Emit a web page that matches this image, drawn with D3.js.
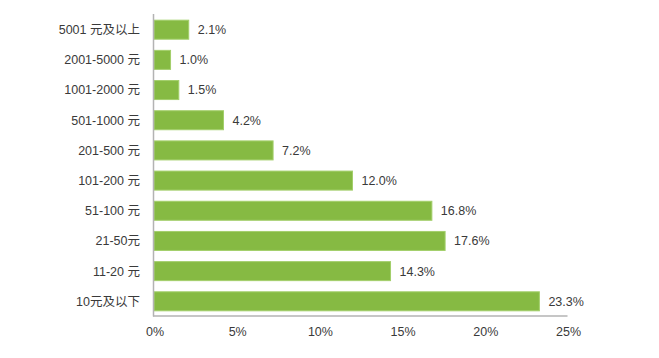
<!DOCTYPE html>
<html><head><meta charset="utf-8">
<script src="https://cdn.jsdelivr.net/npm/d3@7"></script>
<style>body{margin:0;background:#fff}</style>
</head><body>
<svg id="c" width="659" height="358"></svg>
<script>
const categories = ["5001 元及以上","2001-5000 元","1001-2000 元","501-1000 元","201-500 元","101-200 元","51-100 元","21-50元","11-20 元","10元及以下"];
const values = [2.1, 1.0, 1.5, 4.2, 7.2, 12.0, 16.8, 17.6, 14.3, 23.3];
const xTicks = [0, 5, 10, 15, 20, 25];

const svg = d3.select("#c");
const font = "'Liberation Sans', Arial, 'Noto Sans CJK SC', sans-serif";
const x = d3.scaleLinear().domain([0, 25]).range([154, 567.5]);
const y = d3.scaleBand().domain(categories).range([14.6, 316.4]).paddingInner(0.37).paddingOuter(0.185);

svg.selectAll("rect.bar").data(values).join("rect")
  .attr("class","bar")
  .attr("x", x(0))
  .attr("y", (d,i)=>y(categories[i]))
  .attr("width", d=>x(d)-x(0))
  .attr("height", y.bandwidth())
  .attr("fill", "#86ba43")
  .attr("stroke", "#a3cf6b")
  .attr("stroke-width", 1);

svg.selectAll("text.val").data(values).join("text")
  .attr("class","val")
  .attr("x", d=>x(d)+9)
  .attr("y", (d,i)=>y(categories[i])+y.bandwidth()/2)
  .attr("dy","0.35em")
  .attr("font-family", font).attr("font-size", 12.5).attr("fill","#3a3a3a")
  .text(d=>d.toFixed(1)+"%");

svg.selectAll("text.cat").data(categories).join("text")
  .attr("class","cat")
  .attr("x", 140)
  .attr("y", d=>y(d)+y.bandwidth()/2)
  .attr("dy","0.35em")
  .attr("text-anchor","end")
  .attr("font-family", font).attr("font-size", 12.5).attr("fill","#3a3a3a")
  .text(d=>d);

// axes
svg.append("line").attr("x1", x(0)-0.5).attr("x2", x(0)-0.5).attr("y1", 14).attr("y2", 316.5)
  .attr("stroke","#b3b3b3").attr("stroke-width",1.5);
svg.append("line").attr("x1", x(0)-1).attr("x2", x(25)).attr("y1", 316).attr("y2", 316)
  .attr("stroke","#b3b3b3").attr("stroke-width",1.5);

svg.selectAll("text.tick").data(xTicks).join("text")
  .attr("class","tick")
  .attr("x", d=>x(d)+1)
  .attr("y", 332)
  .attr("dy","0.35em")
  .attr("text-anchor","middle")
  .attr("font-family", font).attr("font-size", 12.5).attr("fill","#3a3a3a")
  .text(d=>d+"%");
</script>
</body></html>
